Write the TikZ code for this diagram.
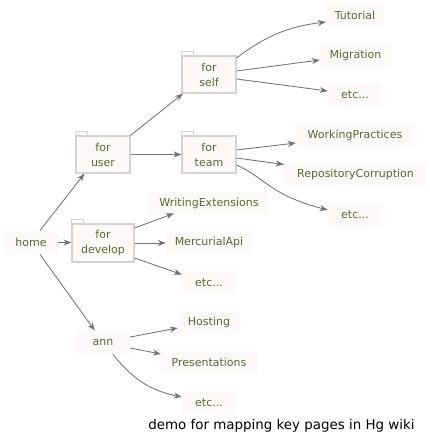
\documentclass[tikz,border=0pt]{standalone}
\usepackage{fontspec}
\setmainfont{DejaVu Sans}
\usetikzlibrary{arrows.meta,calc}
\definecolor{lbl}{HTML}{556B2F}
\definecolor{nodefill}{HTML}{FDF9F8}
\definecolor{folderline}{HTML}{D3D3D3}
\definecolor{edgecol}{HTML}{737373}
\tikzset{
  page/.style={fill=nodefill, draw=none, text=lbl, inner sep=0pt,
    font=\fontsize{11}{15}\selectfont, minimum height=23.5pt},
  folder/.style={fill=nodefill, draw=folderline, line width=1.1pt, text=lbl,
    inner sep=0pt, align=center, font=\fontsize{11}{15}\selectfont,
    minimum width=54pt, minimum height=37pt},
  foldertab/.style={fill=nodefill, draw=folderline, line width=1.1pt},
  edge/.style={draw=edgecol, line width=0.85pt,
    -{Stealth[length=8pt,width=6pt,inset=2.6pt]}},
}
\begin{document}
\begin{tikzpicture}[x=1pt,y=1pt]
\useasboundingbox (0,0) rectangle (430,444);
\fill[white] (0,0) rectangle (430,444);

% folders
\node[folder] (self) at (209,369.5) {for\\self};
\node[folder] (team) at (209,289.5) {for\\team};
\node[folder] (user) at (103,289.5) {for\\user};
\node[folder, minimum width=62pt, minimum height=38pt] (develop) at (103,201) {for\\develop};
\foreach \f in {self,team,user,develop}
  \draw[foldertab] (\f.north west) rectangle ++(12,4);

% pages
\node[page, minimum width=58pt] (tut) at (355,429) {Tutorial};
\node[page, minimum width=71pt] (mig) at (355.5,389) {Migration};
\node[page, minimum width=54pt] (etca) at (355,349) {etc...};
\node[page, minimum width=118pt] (wp) at (355,309) {WorkingPractices};
\node[page, minimum width=143pt] (rc) at (355.5,269.5) {RepositoryCorruption};
\node[page, minimum width=54pt] (etcb) at (355,229) {etc...};
\node[page, minimum width=122pt] (we) at (209,240.5) {WritingExtensions};
\node[page, minimum width=86pt] (mapi) at (209,201.5) {MercurialApi};
\node[page, minimum width=54pt] (etcc) at (209,161.5) {etc...};
\node[page, minimum width=62pt] (host) at (209,121.5) {Hosting};
\node[page, minimum width=96pt] (pres) at (209,81.5) {Presentations};
\node[page, minimum width=54pt] (etcd) at (209,41.5) {etc...};
\node[page, minimum width=54pt] (ann) at (103,101.5) {ann};
\node[page, minimum width=54pt] (home) at (31,201.5) {home};

% caption
\node[anchor=base, text=black, inner sep=0pt, font=\fontsize{13.4}{16}\selectfont]
  (cap) at (281.5,14) {demo for mapping key pages in Hg wiki};

% edges
\draw[edge] ([xshift=9pt]home.north) -- ([xshift=9pt]user.south west);
\draw[edge] (home.east) -- (home.east -| develop.west);
\draw[edge] ([xshift=9pt]home.south) -- ([xshift=19pt]ann.north west);

\draw[edge] (user.north east) -- ([xshift=1.5pt]self.south west);
\draw[edge] (user.east) -- (team.west);

\draw[edge] ([yshift=16.5pt]self.east) to[bend left=15] ([yshift=-7pt]tut.west);
\draw[edge] ([yshift=3.5pt]self.east) -- ([yshift=-5pt]mig.west);
\draw[edge] ([yshift=-4.5pt]self.east) -- ([yshift=4pt]etca.west);

\draw[edge] ([yshift=4.5pt]team.east) -- ([yshift=-8pt]wp.west);
\draw[edge] ([yshift=-3.5pt]team.east) -- ([yshift=10pt]rc.west);
\draw[edge] ([yshift=-10.5pt]team.east)
  .. controls ($([yshift=-10.5pt]team.east)+(29,-13)$)
  and ($([yshift=5pt]etcb.west)+(-58,15)$) .. ([yshift=5pt]etcb.west);

\draw[edge] ([yshift=15pt]develop.east) -- ([xshift=26pt,yshift=2pt]we.south west);
\draw[edge] (develop.east) -- (develop.east -| mapi.west);
\draw[edge] ([yshift=-15pt]develop.east) -- ([yshift=-4pt]etcc.north west);

\draw[edge] ([yshift=5.5pt]ann.east) -- ([yshift=-5.5pt]host.west);
\draw[edge] ([yshift=-5.5pt]ann.east) -- ([yshift=8.5pt]pres.west);
\draw[edge] ([xshift=10pt]ann.south) to[bend right=20] ([yshift=5.5pt]etcd.west);
\end{tikzpicture}
\end{document}
